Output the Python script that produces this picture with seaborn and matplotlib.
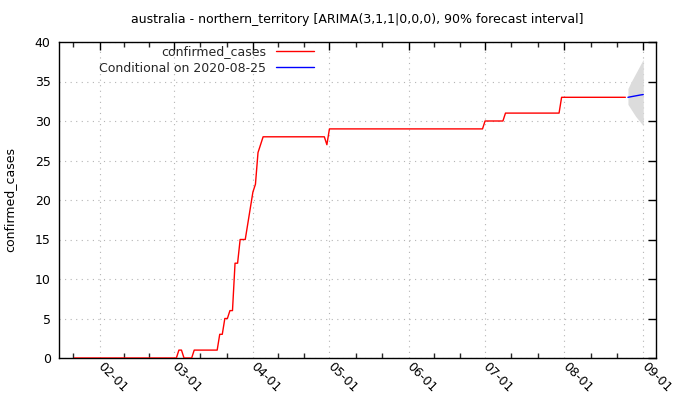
import numpy as np
import pandas as pd
import matplotlib
matplotlib.use("Agg")
import matplotlib.pyplot as plt
import seaborn as sns

# ---- data ----
start_date = "2020-01-22"
case_levels = [0, 1, 0, 1, 3, 5, 6, 12, 15, 17, 19, 21, 22, 26, 27, 28, 27, 29, 30, 31, 33]
level_days  = [41, 2, 4, 10, 2, 2, 2, 2, 3, 1, 1, 1, 1, 1, 1, 25, 1, 61, 8, 22, 26]

fc_dates = ["2020-08-26", "2020-08-27", "2020-08-28", "2020-08-29",
            "2020-08-30", "2020-08-31", "2020-09-01"]
fc_mean  = [33.00, 33.06, 33.12, 33.18, 33.24, 33.30, 33.35]
fc_upper = [34.1, 34.8, 35.4, 36.0, 36.6, 37.2, 37.8]
fc_lower = [32.1, 31.6, 31.1, 30.6, 30.2, 29.8, 29.4]

month_ticks = ["2020-02-01", "2020-03-01", "2020-04-01", "2020-05-01",
               "2020-06-01", "2020-07-01", "2020-08-01", "2020-09-01"]
month_labels = ["02-01", "03-01", "04-01", "05-01", "06-01", "07-01", "08-01", "09-01"]
y_ticks = [0, 5, 10, 15, 20, 25, 30, 35, 40]

title = "australia - northern_territory [ARIMA(3,1,1|0,0,0), 90% forecast interval]"
label_obs = "confirmed_cases"
label_fc = "Conditional on 2020-08-25"

# ---- build frames ----
cases = np.repeat(case_levels, level_days)
obs = pd.DataFrame({"date": pd.date_range(start_date, periods=len(cases), freq="D"),
                    "value": cases})
fc = pd.DataFrame({"date": pd.to_datetime(fc_dates), "mean": fc_mean,
                   "lo": fc_lower, "hi": fc_upper})

sns.set_theme(style="white")
plt.rcParams["font.family"] = ["DejaVu Sans"]
FS = 9

fig = plt.figure(figsize=(6.8, 4.0), dpi=100)
ax = fig.add_axes([59/680, 1-358/400, (656-59)/680, (358-42)/400])

ax.fill_between(fc["date"], fc["lo"], fc["hi"], color="#dcdcdc", lw=0, zorder=1)
sns.lineplot(data=obs, x="date", y="value", ax=ax, color="#ff0000", lw=1.0, zorder=3)
sns.lineplot(data=fc, x="date", y="mean", ax=ax, color="#0000ff", lw=1.0, zorder=3)

xmin, xmax = pd.Timestamp("2020-01-16"), pd.Timestamp("2020-09-06")

# ticks
mt = pd.to_datetime(month_ticks)
ax.set_xticks(mt)
ax.set_xticklabels(month_labels)
edges = [pd.Timestamp("2020-01-01")] + list(mt)
minors = []
for a, b in zip(edges[:-1], edges[1:]):
    d = (b - a) / 3
    minors += [a + d, a + 2 * d]
minors = [m for m in minors if xmin < m < xmax]
ax.set_xticks(minors, minor=True)
ax.set_yticks(y_ticks)
ax.set_xlim(xmin, xmax)
ax.set_ylim(0, 40)

ax.tick_params(axis="both", which="major", direction="in", length=6, width=1,
               top=True, right=True, labelsize=FS, colors="black")
ax.tick_params(axis="x", which="minor", direction="in", length=3.5, width=1,
               top=True, bottom=True)
ax.tick_params(axis="x", which="major", pad=5)
ax.tick_params(axis="y", which="major", pad=6)
for lab in ax.get_xticklabels():
    lab.set_rotation(-45)
    lab.set_ha("left")
    lab.set_va("center")
    lab.set_rotation_mode("anchor")

ax.grid(True, which="major", color="#b4b4b4", lw=0.8, linestyle=(0, (1, 4)))
for s in ax.spines.values():
    s.set_visible(True)
    s.set_color("black")
    s.set_linewidth(1.0)

ax.set_xlabel("")
ax.set_ylabel("confirmed_cases", fontsize=FS, color="black", labelpad=13)
ax.set_title(title, fontsize=FS, color="black", pad=14)

# legend (gnuplot style: right-aligned text, sample to the right)
h_obs = ax.lines[0]
h_fc = ax.lines[1]
common = dict(loc="upper right", frameon=False, markerfirst=False, fontsize=FS,
              handlelength=3.0, handletextpad=0.8, borderaxespad=0, borderpad=0)
leg1 = ax.legend([h_obs], [label_obs], bbox_to_anchor=(0.427, 0.99), **common)
ax.add_artist(leg1)
leg2 = ax.legend([h_fc], [label_fc], bbox_to_anchor=(0.427, 0.938), **common)

fig.savefig("out.png", dpi=100)
